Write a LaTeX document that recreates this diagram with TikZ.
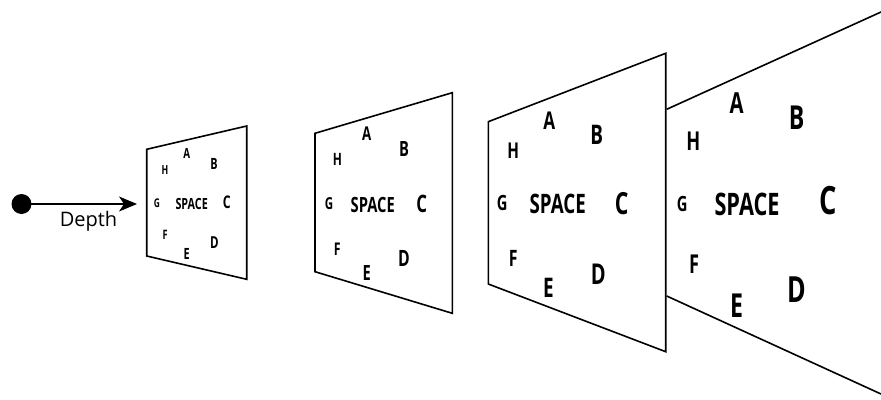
\documentclass[tikz,border=0pt]{standalone}
\usepackage{fontspec}
\setmainfont{Open Sans}
\newfontfamily\lettersfont[FakeStretch=0.7]{Open Sans}
\usetikzlibrary{arrows.meta}
\tikzset{
    plane/.style={line width=1.6pt, line join=miter},
    ltr/.style={font=\lettersfont\bfseries\fontsize{#1}{#1}\selectfont, inner sep=0pt},
    eyedot/.style={circle, fill=black, minimum size=20pt, inner sep=0pt},
}
\begin{document}
\begin{tikzpicture}[x=1pt, y=-1pt]
    \useasboundingbox (0,0) rectangle (881,399);

    % viewer and depth arrow
    \node[eyedot] (eye) at (21.5,204) {};
    \coordinate (tip) at (137,204);
    \draw[line width=1.5pt, -{Stealth[length=18pt, width=15pt, inset=5pt]}] (eye.center) -- (tip);
    \node[font=\fontsize{20}{20}\selectfont, anchor=base, inner sep=0pt] (depth) at (88.5,226.5) {Depth};

    % plane 1
    \draw[plane] (146.7,149.3) -- (246.7,126) -- (246.7,279.3) -- (146.7,256) -- cycle;
    \foreach \n/\x/\y/\s in {A/186.7/153.3/14, B/214/163.7/15.5, C/226.7/202.3/17.5, D/214.3/242.3/16.5,
                             E/186.7/254/15.5, F/165/235.3/13, G/157/203/12, H/165/170/12.5}
        \node[ltr=\s] (\n1) at (\x,\y) {\n};
    \node[ltr=15.4] (space1) at (191.7,203.7) {SPACE};

    % plane 2
    \draw[plane] (315,133.3) -- (452.3,92.7) -- (452.3,313.3) -- (315,271.7) -- cycle;
    \foreach \n/\x/\y/\s in {A/366.7/133.3/19, B/404/149.3/21, C/421.7/204/24, D/404/258.3/22.5,
                             E/366.7/272.7/21, F/337.3/249.3/17.5, G/329/203.3/16.5, H/337.3/159.3/17}
        \node[ltr=\s] (\n2) at (\x,\y) {\n};
    \node[ltr=21] (space2) at (372.7,204.7) {SPACE};

    % plane 3
    \draw[plane] (488.3,121.7) -- (665.7,53.3) -- (665.7,351.7) -- (488.3,284) -- cycle;
    \foreach \n/\x/\y/\s in {A/549.3/120.7/24.5, B/596.7/135/27, C/621.7/203.3/30.5, D/598.3/274/28.7,
                             E/548.3/288.3/27, F/513.3/258.3/22.6, G/502.3/202.7/21, H/513.3/150.7/21.8}
        \node[ltr=\s] (\n3) at (\x,\y) {\n};
    \node[ltr=26.8] (space3) at (557.7,204) {SPACE};

    % plane 4 (open to the right)
    \draw[plane] (666.7,109.3) -- (881,12);
    \draw[plane] (666.7,296) -- (881,394);
    \foreach \n/\x/\y/\s in {A/736.7/103.3/29, B/796.7/117.3/33, C/828.3/201/39, D/796.7/290/36,
                             E/736.7/305.7/33, F/694/264.3/26, G/682.3/204/21, H/693.3/141/26}
        \node[ltr=\s] (\n4) at (\x,\y) {\n};
    \node[ltr=31] (space4) at (747,204.3) {SPACE};
\end{tikzpicture}
\end{document}
